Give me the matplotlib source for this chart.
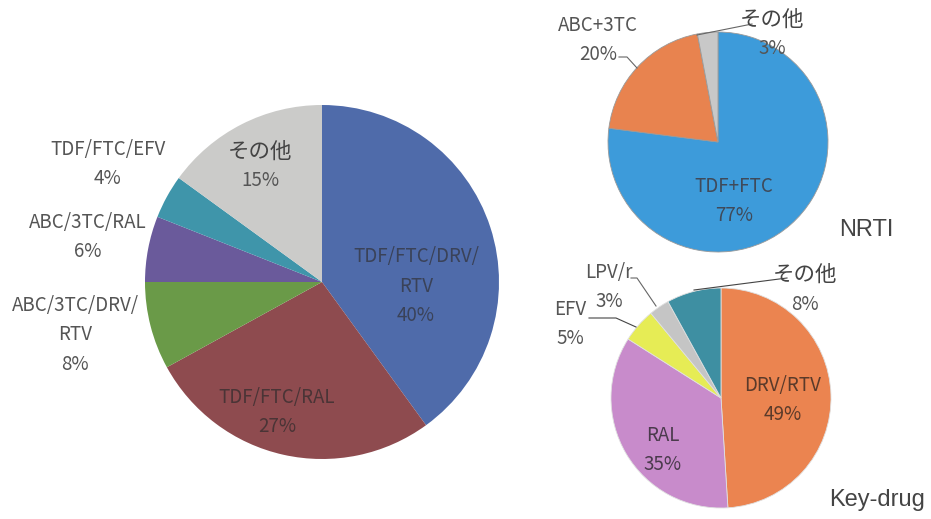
import matplotlib
matplotlib.use("Agg")
import matplotlib.pyplot as plt

plt.rcParams['font.family'] = ['Noto Sans CJK JP', 'DejaVu Sans']

# ---- data ----
main_labels = ["TDF/FTC/DRV/\nRTV", "TDF/FTC/RAL", "ABC/3TC/DRV/\nRTV", "ABC/3TC/RAL", "TDF/FTC/EFV", "その他"]
main_values = [40, 27, 8, 6, 4, 15]
main_colors = ["#4F6BAA", "#8E4B4F", "#6A9A48", "#6A5A9B", "#3F95AA", "#CBCBC9"]

nrti_labels = ["TDF+FTC", "ABC+3TC", "その他"]
nrti_values = [77, 20, 3]
nrti_colors = ["#3D9BDA", "#E8834F", "#C8C8C8"]

key_labels = ["DRV/RTV", "RAL", "EFV", "LPV/r", "その他"]
key_values = [49, 35, 5, 3, 8]
key_colors = ["#EB8450", "#C88BCB", "#E6EC55", "#C5C5C5", "#3E8FA2"]

W, H = 931, 519
fig = plt.figure(figsize=(W / 100, H / 100), dpi=100)
ax = fig.add_axes([0, 0, 1, 1])

def Y(y):
    return H - y

def draw_pie(values, colors, cx, cy, r, ec):
    ax.pie(values, colors=colors, startangle=90, counterclock=False,
           center=(cx, Y(cy)), radius=r, frame=True,
           wedgeprops=dict(edgecolor=ec, linewidth=0.6))

draw_pie(main_values, main_colors, 322, 282, 177, 'none')
draw_pie(nrti_values, nrti_colors, 718, 142, 110, '#9a9a9a')
draw_pie(key_values, key_colors, 721, 398, 110, '#e0e0e0')
ax.set_xlim(0, W)
ax.set_ylim(0, H)
ax.set_aspect('equal')
ax.axis('off')

fs = 13.5
LS = 1.55

def label(txt, val, x, y, color):
    ax.text(x, Y(y), f"{txt}\n{val}%", ha='center', va='center', fontsize=fs,
            color=color, linespacing=LS)

def other_label(txt, val, x, y):
    ax.text(x, Y(y - 14), txt, ha='center', va='center', fontsize=15.5,
            color="#444444")
    ax.text(x, Y(y + 15), f"{val}%", ha='center', va='center', fontsize=fs,
            color="#555555")

def draw_labels(labels, values, pos, tcs):
    for t, v, (x, y), c in zip(labels, values, pos, tcs):
        if t == "その他":
            other_label(t, v, x, y)
        else:
            label(t, v, x, y, c)

# main pie labels
main_pos = [(416, 286), (277, 412), (75, 335), (88, 237), (108, 164), (260, 166)]
main_tc = ["#3a4258", "#4a3436", "#555555", "#555555", "#555555", "#555555"]
draw_labels(main_labels, main_values, main_pos, main_tc)

# NRTI labels
nrti_pos = [(734, 201), (598, 40), (772, 34)]
nrti_tc = ["#3f4a5a", "#555555", "#555555"]
draw_labels(nrti_labels, nrti_values, nrti_pos, nrti_tc)
ax.plot([619, 627, 637], [Y(57), Y(57), Y(68)], color='#666666', lw=0.8)
ax.plot([697, 752], [Y(35), Y(24)], color='#666666', lw=0.8)

# Key-drug labels
key_pos = [(783, 400), (663, 450), (570, 324), (609, 287), (805, 289)]
key_tc = ["#5a3a2a", "#4a3a4c", "#555555", "#555555", "#555555"]
draw_labels(key_labels, key_values, key_pos, key_tc)
ax.plot([589, 616, 636], [Y(318), Y(318), Y(327)], color='#444444', lw=0.8)
ax.plot([631, 637, 656], [Y(278), Y(278), Y(306)], color='#666666', lw=0.8)
ax.plot([694, 787], [Y(290), Y(278)], color='#444444', lw=0.8)

ax.text(866, Y(230), "NRTI", ha='center', va='center', fontsize=17,
        color="#444444", family=['Liberation Sans', 'DejaVu Sans'])
ax.text(877, Y(500), "Key-drug", ha='center', va='center', fontsize=17,
        color="#444444", family=['Liberation Sans', 'DejaVu Sans'])

fig.savefig("out.png", dpi=100, facecolor='white')
